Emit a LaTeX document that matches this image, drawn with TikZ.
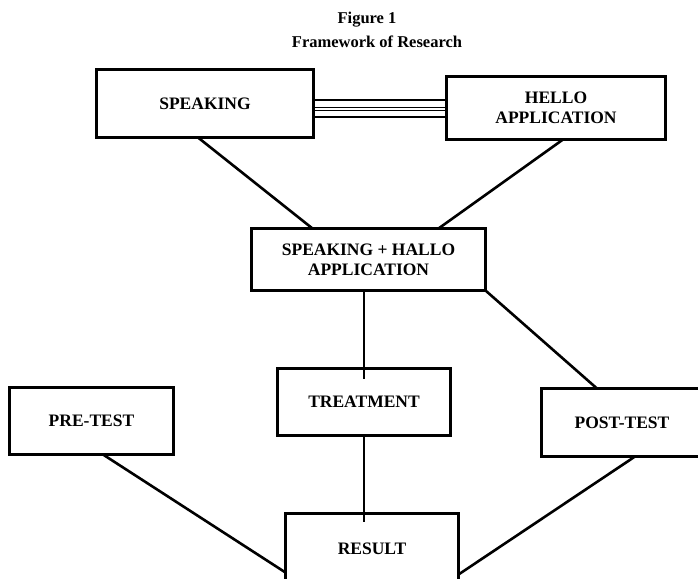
\documentclass[tikz,border=0pt]{standalone}
\usepackage{fontspec}
\setmainfont{Liberation Serif}
\usetikzlibrary{calc}

\begin{document}
\begin{tikzpicture}[x=1pt, y=-1pt,
  box/.style={draw, line width=2.6pt, align=center, inner sep=0pt, outer sep=0pt,
    font=\fontsize{17.5}{20}\selectfont\bfseries},
  heading/.style={font=\fontsize{16.5}{19}\selectfont\bfseries, inner sep=0pt},
  link/.style={line width=2.6pt},
  stem/.style={line width=1.8pt},
  pairline/.style={line width=1.1pt}]
\clip (0,0) rectangle (698,578);
\fill[white] (0,0) rectangle (698,578);

\node[heading] (fig) at (367,20) {Figure 1};
\node[heading] (title) at (377,42) {Framework of Research};

\node[box, minimum width=217pt, minimum height=68pt] (speak) at (205,103.5) {SPEAKING};
\node[box, minimum width=219pt, minimum height=63pt] (hello) at (556,108) {HELLO\\APPLICATION};
\node[box, minimum width=234pt, minimum height=62pt] (combo) at (368.5,259.5) {SPEAKING + HALLO\\APPLICATION};
\node[box, minimum width=173pt, minimum height=67pt] (treat) at (364,402) {TREATMENT};
\node[box, minimum width=164pt, minimum height=67pt] (pre) at (91.5,421) {PRE-TEST};
\node[box, minimum width=161pt, minimum height=68pt] (post) at (622,422.5) {POST-TEST};
\node[box, minimum width=173pt, minimum height=70pt] (result) at (372,548.5) {RESULT};

\foreach \dy in {100,107.3,110.3,117}
  \draw[pairline] (speak.east |- 0,\dy) -- (hello.west |- 0,\dy);

\draw[link] ($(speak.south)+(-7,0)$) -- ($(combo.north)+(-56,0)$);
\draw[link] ($(hello.south)+(7,0)$) -- ($(combo.north)+(70,0)$);
\draw[stem] (combo.south -| treat.north) -- ($(treat.north)+(0,10)$);
\draw[link] (combo.south east) -- ($(post.north)+(-25,0)$);
\draw[stem] (treat.south) -- ($(result.north -| treat.south)+(0,8)$);
\draw[link] ($(pre.south)+(11.5,0)$) -- ($(result.south west)+(0,-11)$);
\draw[link] ($(post.south)+(13,0)$) -- ($(result.south east)+(0,-9)$);
\end{tikzpicture}
\end{document}
